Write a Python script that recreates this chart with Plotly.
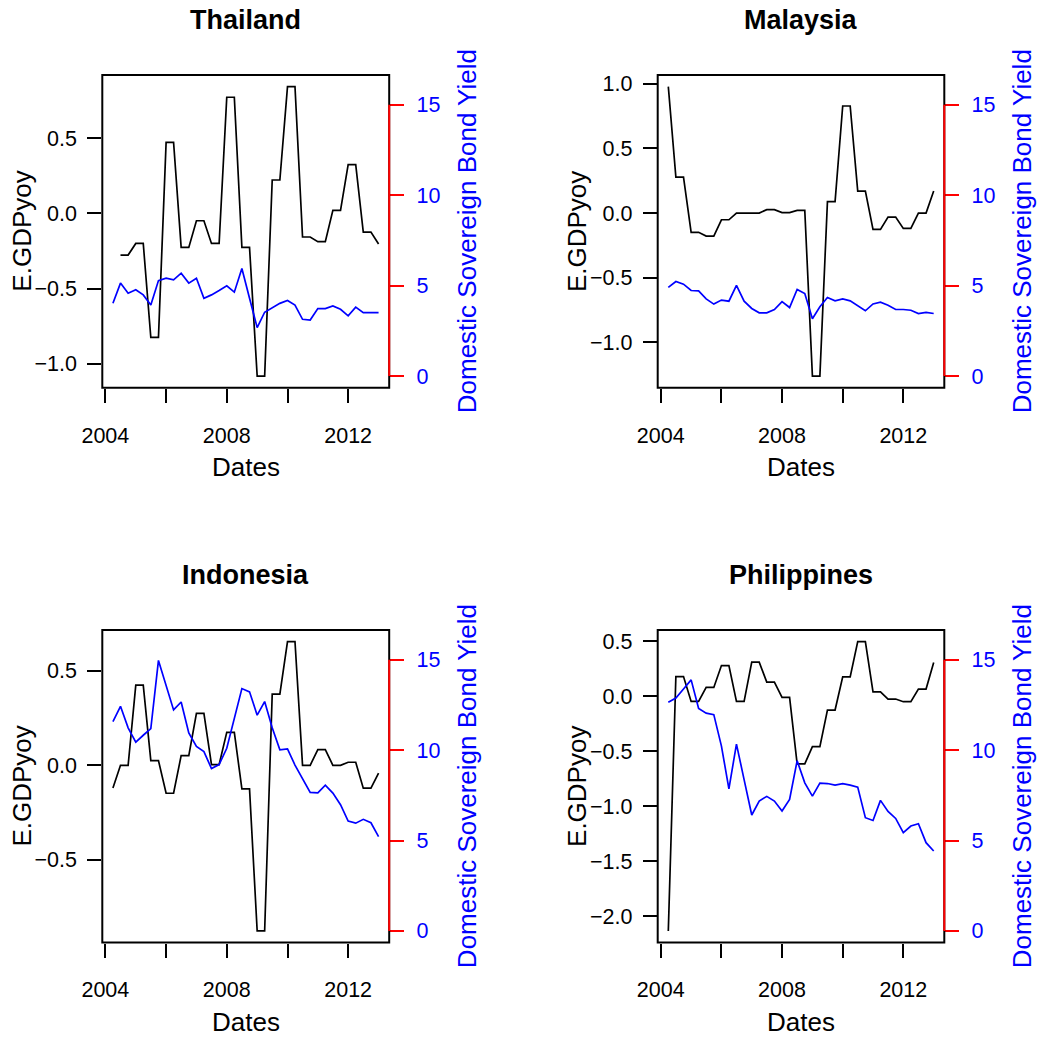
import pandas as pd
import numpy as np
import plotly.graph_objects as go

# Quarterly observation dates shared by every country
quarters = pd.date_range("2004-04-01", "2013-01-01", freq="QS")

countries = ["Thailand", "Malaysia", "Indonesia", "Philippines"]

# Exchange-rate / GDP year-on-year measure (left axis)
thailand_gdp = [None, -0.277, -0.277, -0.20, -0.20, -0.825, -0.825, 0.472, 0.472,
                -0.226, -0.226, -0.049, -0.049, -0.20, -0.20, 0.772, 0.772,
                -0.226, -0.226, -1.082, -1.082, 0.222, 0.222, 0.843, 0.843,
                -0.157, -0.157, -0.188, -0.188, 0.02, 0.02, 0.324, 0.324,
                -0.124, -0.124, -0.204]
malaysia_gdp = [0.977, 0.278, 0.278, -0.149, -0.149, -0.178, -0.178, -0.052, -0.052,
                0.0, 0.0, 0.0, 0.0, 0.026, 0.026, 0.003, 0.003, 0.02, 0.02,
                -1.26, -1.26, 0.088, 0.088, 0.827, 0.827, 0.17, 0.17,
                -0.126, -0.126, -0.031, -0.031, -0.119, -0.119, 0.0, 0.0, 0.17]
indonesia_gdp = [-0.12, 0.0, 0.0, 0.424, 0.424, 0.025, 0.025, -0.148, -0.148,
                 0.051, 0.051, 0.275, 0.275, 0.004, 0.004, 0.174, 0.174,
                 -0.125, -0.125, -0.877, -0.877, 0.377, 0.377, 0.655, 0.655,
                 0.0, 0.0, 0.083, 0.083, 0.0, 0.0, 0.016, 0.016,
                 -0.121, -0.121, -0.042]
philippines_gdp = [-2.136, 0.178, 0.178, -0.048, -0.048, 0.079, 0.079, 0.278, 0.278,
                   -0.048, -0.048, 0.309, 0.309, 0.127, 0.127, -0.012, -0.012,
                   -0.617, -0.617, -0.46, -0.46, -0.127, -0.127, 0.175, 0.175,
                   0.496, 0.496, 0.039, 0.039, -0.027, -0.027, -0.051, -0.051,
                   0.064, 0.064, 0.306]

# Domestic sovereign bond yield, % (right axis)
thailand_yield = [4.03, 5.14, 4.58, 4.77, 4.49, 3.93, 5.28, 5.41, 5.32, 5.69, 5.14,
                  5.41, 4.30, 4.49, 4.73, 4.99, 4.64, 5.95, 4.30, 2.68, 3.53, 3.77,
                  4.02, 4.18, 3.93, 3.14, 3.10, 3.73, 3.73, 3.88, 3.69, 3.33, 3.81,
                  3.51, 3.51, 3.51]
malaysia_yield = [4.90, 5.23, 5.08, 4.73, 4.71, 4.27, 3.98, 4.20, 4.14, 5.02, 4.14,
                  3.74, 3.50, 3.50, 3.68, 4.12, 3.79, 4.79, 4.56, 3.17, 3.83, 4.34,
                  4.16, 4.27, 4.16, 3.90, 3.61, 3.99, 4.09, 3.92, 3.68, 3.68, 3.64,
                  3.46, 3.52, 3.46]
indonesia_yield = [11.58, 12.42, 11.23, 10.44, 10.82, 11.19, 14.96, 13.58, 12.22,
                   12.66, 10.95, 10.20, 9.92, 8.98, 9.20, 10.10, 11.72, 13.40,
                   13.22, 11.93, 12.68, 11.23, 10.01, 10.07, 9.17, 8.41, 7.66,
                   7.64, 8.06, 7.62, 6.98, 6.07, 5.96, 6.17, 5.98, 5.21]
philippines_yield = [12.65, 12.88, 13.38, 13.88, 12.30, 12.04, 11.96, 10.22, 7.86,
                     10.33, 8.37, 6.41, 7.18, 7.44, 7.18, 6.63, 7.27, 9.41, 8.19,
                     7.45, 8.17, 8.15, 8.06, 8.14, 8.06, 7.95, 6.26, 6.11, 7.22,
                     6.61, 6.22, 5.43, 5.80, 5.93, 4.88, 4.42]

gdp_series = [thailand_gdp, malaysia_gdp, indonesia_gdp, philippines_gdp]
yield_series = [thailand_yield, malaysia_yield, indonesia_yield, philippines_yield]

yield_ticks = [0, 5, 10, 15]
yield_limits = [0, 16]
year_ticks = ["2004-01-01", "2006-01-01", "2008-01-01", "2010-01-01", "2012-01-01"]
year_labels = ["2004", "", "2008", "", "2012"]

W, H = 1040, 1038
FONT = "Liberation Sans, Arial, Helvetica, sans-serif"
TICK_SIZE = 21.5
LAB_SIZE = 26
MAIN_SIZE = 27

# plotting boxes in pixels: (left, right, top, bottom)
boxes = [
    (102.3, 389.2, 75.0, 387.7),
    (657.7, 944.3, 75.0, 387.7),
    (102.3, 389.2, 630.0, 942.5),
    (657.7, 944.3, 630.0, 942.5),
]


def padded(lo, hi, frac=0.04):
    d = (hi - lo) * frac
    return [lo - d, hi + d]


# date range padded like base R graphics
t0, t1 = quarters[0], quarters[-1]
span = t1 - t0
x_range = [(t0 - span * 0.04).strftime("%Y-%m-%d %H:%M"),
           (t1 + span * 0.04).strftime("%Y-%m-%d %H:%M")]

fig = go.Figure()
layout = dict(
    template="none",
    width=W, height=H,
    margin=dict(l=0, r=0, t=0, b=0, pad=0, autoexpand=False),
    paper_bgcolor="white", plot_bgcolor="white",
    showlegend=False,
    font=dict(family=FONT, color="black"),
)
shapes = []
annotations = []

for k, (name, gdp, yld, box) in enumerate(zip(countries, gdp_series, yield_series, boxes)):
    i = k + 1
    xa = f"x{i}" if i > 1 else "x"
    yl_id = 2 * k + 1
    yr_id = 2 * k + 2
    yl = f"y{yl_id}" if yl_id > 1 else "y"
    yr = f"y{yr_id}"
    xkey = f"xaxis{i}" if i > 1 else "xaxis"
    ylkey = f"yaxis{yl_id}" if yl_id > 1 else "yaxis"
    yrkey = f"yaxis{yr_id}"

    left, right, top, bottom = box
    xdom = [left / W, right / W]
    ydom = [1 - bottom / H, 1 - top / H]

    vals = np.array([np.nan if v is None else v for v in gdp], dtype=float)
    lrange = padded(np.nanmin(vals), np.nanmax(vals))

    fig.add_trace(go.Scatter(x=quarters, y=gdp, mode="lines", xaxis=xa, yaxis=yl,
                             line=dict(color="black", width=1.7), connectgaps=False,
                             hoverinfo="skip"))
    fig.add_trace(go.Scatter(x=quarters, y=yld, mode="lines", xaxis=xa, yaxis=yr,
                             line=dict(color="#0000FF", width=1.7), hoverinfo="skip"))

    layout[xkey] = dict(
        domain=xdom, anchor=yl, type="date", range=x_range, automargin=False,
        tickmode="array", tickvals=year_ticks, ticktext=year_labels,
        ticks="outside", ticklen=14, tickwidth=1.6, tickcolor="black",
        showgrid=False, zeroline=False, showline=False,
        tickfont=dict(size=TICK_SIZE, color="black", family=FONT),
        ticklabelstandoff=14,
    )
    layout[ylkey] = dict(
        domain=ydom, anchor=xa, range=lrange, automargin=False,
        tick0=0, dtick=0.5, tickformat=".1f",
        ticks="outside", ticklen=14, tickwidth=1.6, tickcolor="black",
        showgrid=False, zeroline=False, showline=False,
        tickfont=dict(size=TICK_SIZE, color="black", family=FONT),
        ticklabelstandoff=6,
    )
    layout[yrkey] = dict(
        overlaying=yl, side="right", anchor=xa, range=padded(*yield_limits),
        automargin=False, tickmode="array", tickvals=yield_ticks,
        ticks="outside", ticklen=14, tickwidth=1.6, tickcolor="#FF0000",
        showgrid=False, zeroline=False, showline=False,
        tickfont=dict(size=TICK_SIZE, color="#0000FF", family=FONT),
        ticklabelstandoff=8,
    )

    # frame around the plotting region
    shapes.append(dict(type="rect", xref=f"{xa} domain", yref=f"{yl} domain",
                       x0=0, x1=1, y0=0, y1=1, line=dict(color="black", width=2),
                       layer="above"))
    # red right-hand axis line spanning the labelled ticks
    shapes.append(dict(type="line", xref=f"{xa} domain", yref=yr,
                       x0=1, x1=1, y0=yield_ticks[0], y1=yield_ticks[-1],
                       line=dict(color="#FF0000", width=2), layer="above"))

    cx = (left + right) / 2 / W
    cy = 1 - (top + bottom) / 2 / H
    annotations.append(dict(text=f"<b>{name}</b>", xref="paper", yref="paper",
                            x=cx, y=1 - (top - 55) / H, showarrow=False,
                            xanchor="center", yanchor="middle",
                            font=dict(size=MAIN_SIZE, color="black", family=FONT)))
    annotations.append(dict(text="Dates", xref="paper", yref="paper",
                            x=cx, y=1 - (bottom + 79) / H, showarrow=False,
                            xanchor="center", yanchor="middle",
                            font=dict(size=LAB_SIZE, color="black", family=FONT)))
    annotations.append(dict(text="E.GDPyoy", xref="paper", yref="paper",
                            x=(left - 80) / W, y=cy, showarrow=False, textangle=-90,
                            xanchor="center", yanchor="middle",
                            font=dict(size=LAB_SIZE, color="black", family=FONT)))
    annotations.append(dict(text="Domestic Sovereign Bond Yield", xref="paper",
                            yref="paper", x=(right + 77.7) / W, y=cy, showarrow=False,
                            textangle=-90, xanchor="center", yanchor="middle",
                            font=dict(size=LAB_SIZE, color="#0000FF", family=FONT)))

layout["shapes"] = shapes
layout["annotations"] = annotations
fig.update_layout(**layout)

fig.write_html("out.html")
